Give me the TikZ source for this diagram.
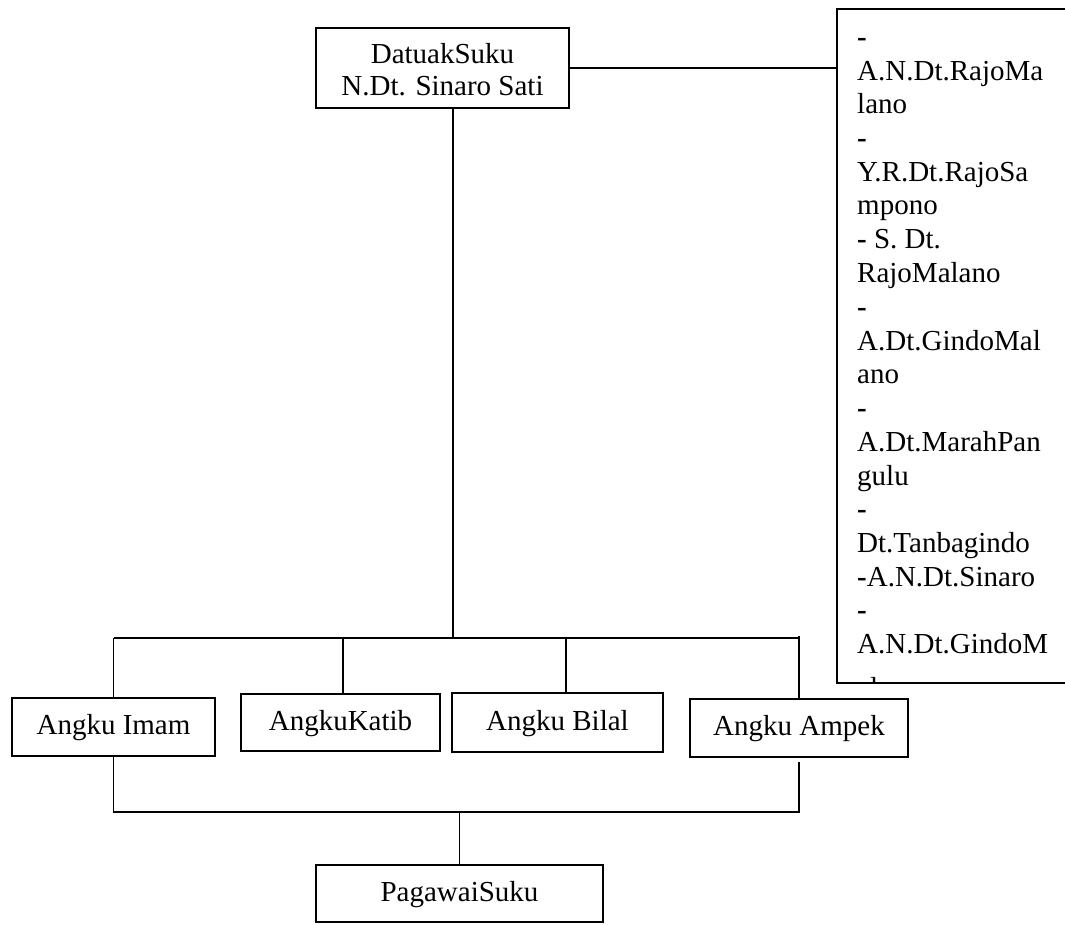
\documentclass[tikz,border=0pt]{standalone}
\usepackage{fontspec}
\setmainfont{Liberation Serif}
\begin{document}
\begin{tikzpicture}[x=1pt,y=-1pt,
  box/.style={draw, line width=1.7pt, inner sep=0pt, text height=20pt, text depth=5pt},
  ln/.style={line width=1.7pt},
  txt/.style={inner sep=0pt, anchor=base},
  mtxt/.style={inner sep=0pt, anchor=base west},
  font=\fontsize{29}{33}\selectfont]
\useasboundingbox (0,0) rectangle (1065,924);
\clip (0,0) rectangle (1065,924);

% top box
\node[box, minimum width=253pt, minimum height=80pt] (datuk) at (442.5,68) {};
\node[txt] (datuk1) at (442.5,63) {DatuakSuku};
\node[txt] (datuk2) at (442.5,95) {N.Dt. Sinaro Sati};

% right box (cut by the page edge)
\node[box, minimum width=240pt, minimum height=674pt, anchor=north west] (members) at (836,8) {};
\begin{scope}
\clip (members.north west) rectangle (members.south east);
\node[mtxt] (m1) at (857,46) {\textbf{-}};
\node[mtxt] (m2) at (857,80) {A.N.Dt.RajoMa};
\node[mtxt] (m3) at (857,113) {lano};
\node[mtxt] (m4) at (857,147) {\textbf{-}};
\node[mtxt] (m5) at (857,181) {Y.R.Dt.RajoSa};
\node[mtxt] (m6) at (857,214) {mpono};
\node[mtxt] (m7) at (857,248) {\textbf{-} S. Dt.};
\node[mtxt] (m8) at (857,282) {RajoMalano};
\node[mtxt] (m9) at (857,316) {\textbf{-}};
\node[mtxt] (m10) at (857,350) {A.Dt.GindoMal};
\node[mtxt] (m11) at (857,383) {ano};
\node[mtxt] (m12) at (857,417) {\textbf{-}};
\node[mtxt] (m13) at (857,451) {A.Dt.MarahPan};
\node[mtxt] (m14) at (857,485) {gulu};
\node[mtxt] (m15) at (857,518) {\textbf{-}};
\node[mtxt] (m16) at (857,552) {Dt.Tanbagindo};
\node[mtxt] (m17) at (857,586) {\textbf{-}A.N.Dt.Sinaro};
\node[mtxt] (m18) at (857,619) {\textbf{-}};
\node[mtxt] (m19) at (857,653) {A.N.Dt.GindoM};
\node[mtxt] (m20) at (857,697) {alano};
\end{scope}

% middle row
\node[box, minimum width=203pt, minimum height=58pt] (imam) at (113.5,727) {Angku Imam};
\node[box, minimum width=199pt, minimum height=57pt] (katib) at (340.5,722.5) {AngkuKatib};
\node[box, minimum width=211pt, minimum height=59pt] (bilal) at (557.5,722.5) {Angku Bilal};
\node[box, minimum width=218pt, minimum height=58pt] (ampek) at (799,728) {Angku Ampek};

% bottom box
\node[box, minimum width=287pt, minimum height=57pt] (pagawai) at (459.5,893.5) {PagawaiSuku};

% connectors
\coordinate (jL) at (114,638);
\coordinate (jR) at (800,638);
\coordinate (kL) at (114,812);
\coordinate (kR) at (800,812);
\coordinate (dv) at ([xshift=10.5pt]datuk.south);
\coordinate (kt) at ([xshift=2.5pt]katib.north);
\coordinate (bt) at ([xshift=8.5pt]bilal.north);
\coordinate (ab) at ([yshift=-4pt]ampek.south);

\draw[ln] (datuk.east) -- (datuk.east -| members.west);
\draw[ln] (dv) -- (dv |- jL);
\draw[ln] (jL) -- (jR);
\draw[ln] (imam.north) -- (imam.north |- jL);
\draw[ln] (kt) -- (kt |- jL);
\draw[ln] (bt) -- (bt |- jL);
\draw[ln] (ampek.north) -- ([yshift=2pt]ampek.north |- jR);
\draw[ln] (imam.south) -- (imam.south |- kL) -- (ab |- kR) -- (ab);
\draw[ln] (pagawai.north) -- (pagawai.north |- kL);
\end{tikzpicture}
\end{document}
